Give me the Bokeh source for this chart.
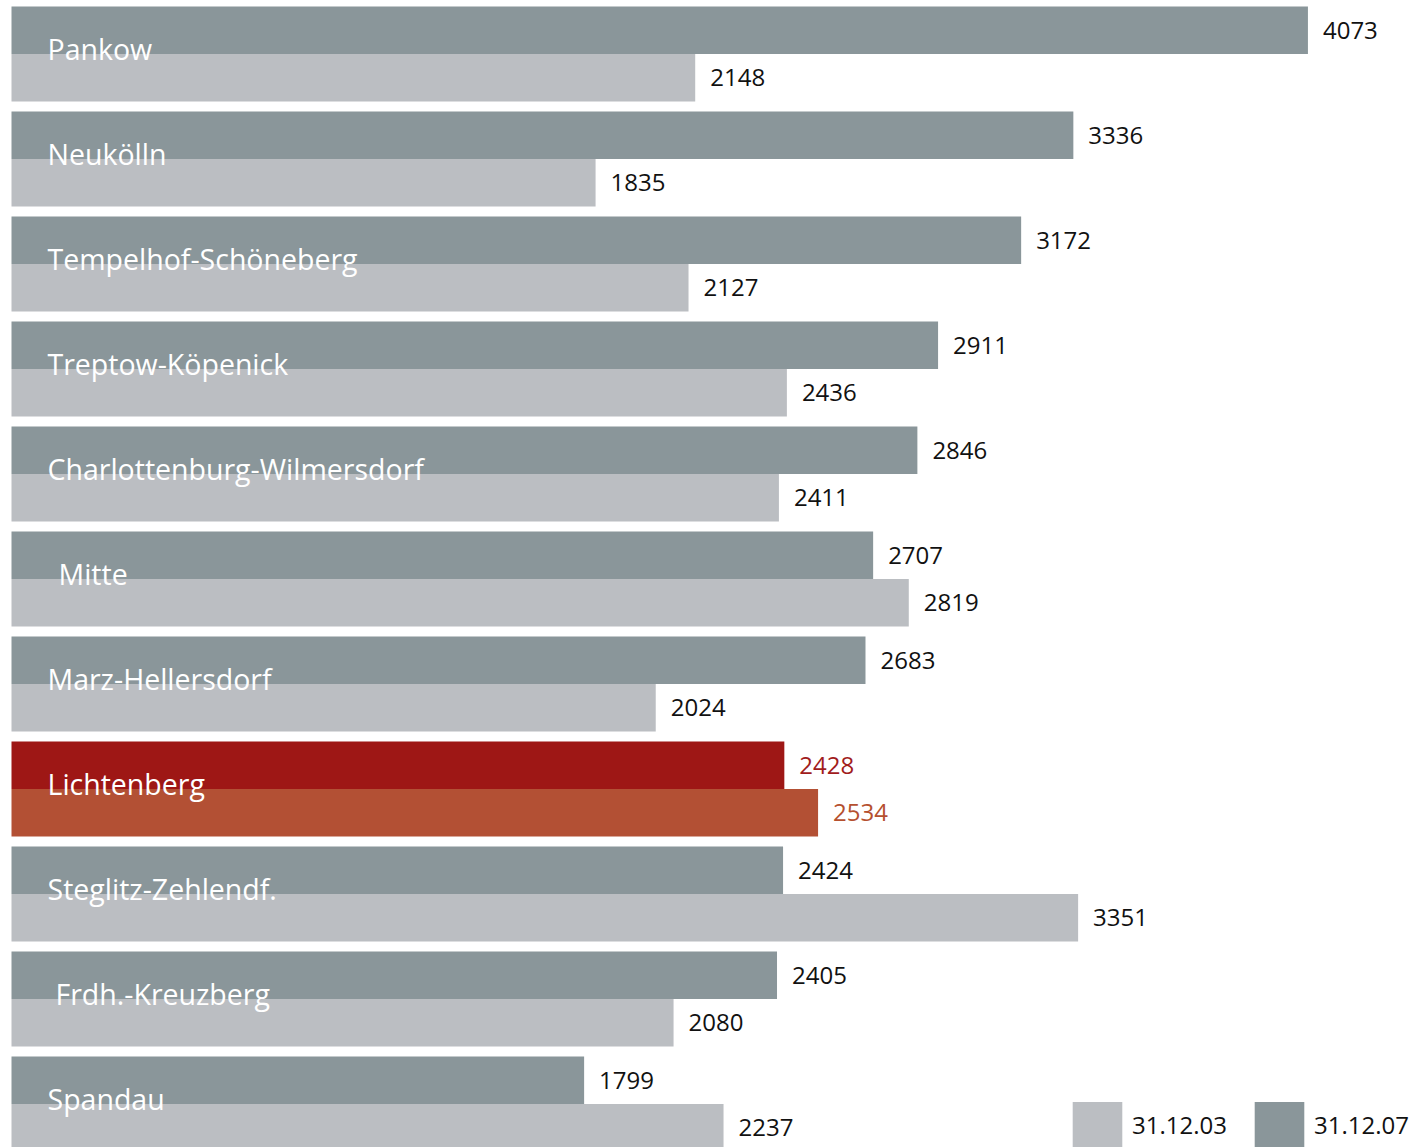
from bokeh.plotting import figure
from bokeh.models import ColumnDataSource, Range1d, Legend, LegendItem
from bokeh.core.properties import value
from bokeh.embed import file_html
from bokeh.resources import INLINE

# ---- data ----
districts = ["Pankow", "Neukölln", "Tempelhof-Schöneberg", "Treptow-Köpenick",
             "Charlottenburg-Wilmersdorf", "Mitte", "Marz-Hellersdorf", "Lichtenberg",
             "Steglitz-Zehlendf.", "Frdh.-Kreuzberg", "Spandau"]
v2007 = [4073, 3336, 3172, 2911, 2846, 2707, 2683, 2428, 2424, 2405, 1799]
v2003 = [2148, 1835, 2127, 2436, 2411, 2819, 2024, 2534, 3351, 2080, 2237]
series_labels = ["31.12.03", "31.12.07"]
highlight = "Lichtenberg"

# ---- styles ----
C07, C03 = "#8a969a", "#bbbec2"
H07, H03 = "#9e1715", "#b35034"
T07, T03 = "#a11c1c", "#b5502f"
FONT = "Open Sans"
BAR_H = 0.4524
OFF = 0.2262
label_dx = {"Mitte": 11, "Frdh.-Kreuzberg": 8}

n = len(districts)
ypos = [-i for i in range(n)]
src = ColumnDataSource(dict(
    name=districts,
    v07=v2007, v03=v2003,
    y07=[y + OFF for y in ypos], y03=[y - OFF for y in ypos], yc=ypos,
    c07=[H07 if d == highlight else C07 for d in districts],
    c03=[H03 if d == highlight else C03 for d in districts],
    t07=[T07 if d == highlight else "#111111" for d in districts],
    t03=[T03 if d == highlight else "#111111" for d in districts],
    zero=[0] * n,
    ldx=[36 + label_dx.get(d, 0) for d in districts],
    s07=[str(v) for v in v2007], s03=[str(v) for v in v2003],
))

W, H = 1410, 1147
p = figure(width=W, height=H, output_backend="svg", toolbar_location=None,
           x_range=Range1d(-34.56, (W - 11) / 0.3183),
           y_range=Range1d(-10.414, 0.5095),
           min_border=0, outline_line_color=None)
p.axis.visible = False
p.grid.visible = False
p.background_fill_color = "white"
p.border_fill_color = "white"

r07 = p.hbar(y="y07", left=0, right="v07", height=BAR_H, source=src,
             fill_color="c07", line_color=None)
r03 = p.hbar(y="y03", left=0, right="v03", height=BAR_H, source=src,
             fill_color="c03", line_color=None)

p.text(x="v07", y="y07", text="s07", source=src, x_offset=15,
       text_baseline="middle", text_align="left", text_color="t07",
       text_font=value(FONT), text_font_size="24px")
p.text(x="v03", y="y03", text="s03", source=src, x_offset=15,
       text_baseline="middle", text_align="left", text_color="t03",
       text_font=value(FONT), text_font_size="24px")

p.text(x="zero", y="yc", text="name", source=src, x_offset="ldx", y_offset=-5,
       text_baseline="alphabetic", text_align="left", text_color="white",
       text_font=value(FONT), text_font_size="28.5px")

legend = Legend(items=[LegendItem(label=series_labels[0], renderers=[r03]),
                       LegendItem(label=series_labels[1], renderers=[r07])],
                orientation="horizontal", location=(1066, -5),
                glyph_width=62, glyph_height=56, label_standoff=4, spacing=21,
                padding=0, margin=0, border_line_color=None,
                background_fill_alpha=0,
                label_text_font=FONT, label_text_font_size="24px",
                label_text_color="#111111")
p.add_layout(legend, "center")

open("out.html", "w").write(file_html(p, INLINE))
